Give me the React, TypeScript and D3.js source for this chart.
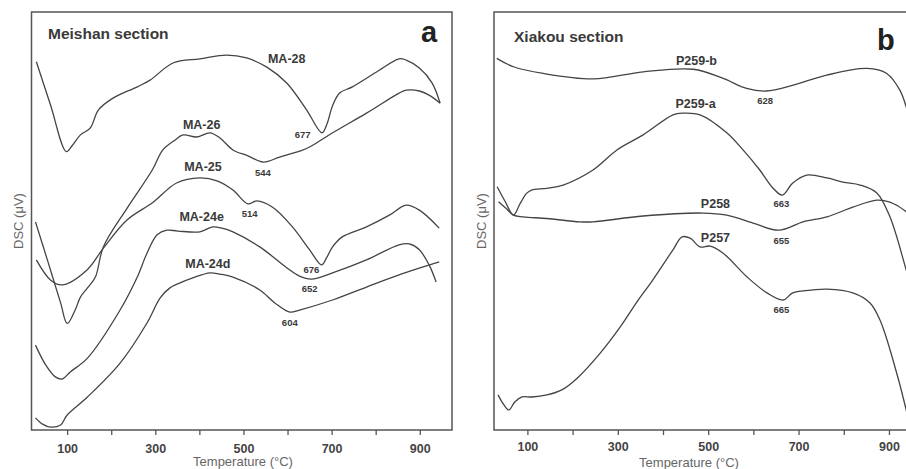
import React from 'react';
import * as d3 from 'd3';

type Pt = [number, number];

// x-axis ticks (°C)
const tickValues = [100, 200, 300, 400, 500, 600, 700, 800, 900];
const tickLabelValues = [100, 300, 500, 700, 900];

// ---- Panel a : Meishan section (temperature °C, DSC arbitrary units) ----
const ma28: Pt[] = [
  [29, 88.1], [61, 77.8], [97, 66.6], [110, 68.0], [129, 70.6], [151, 72.2], [170, 76.6], [203, 79.4],
  [258, 82.1], [287, 83.7], [339, 87.8], [400, 88.8], [461, 89.7], [506, 89.0], [552, 86.8],
  [597, 83.0], [642, 76.6], [677, 71.1], [689, 73.4], [700, 77.3], [717, 80.6], [746, 82.1],
  [800, 85.6], [852, 88.8], [868, 88.5], [898, 86.6], [927, 83.0], [945, 78.2],
];
const ma26: Pt[] = [
  [27, 49.8], [54, 40.7], [84, 30.4], [99, 25.5], [117, 28.7], [129, 31.8], [145, 34.0], [163, 36.6],
  [181, 43.8], [235, 53.1], [292, 62.2], [316, 67.0], [344, 69.4], [362, 70.6], [393, 70.1],
  [423, 71.1], [445, 69.9], [475, 67.0], [509, 65.6], [544, 64.1], [581, 65.3], [626, 66.7],
  [649, 67.7], [701, 71.1], [778, 75.8], [852, 80.6], [868, 81.3], [898, 81.1], [920, 80.1], [945, 78.2],
];
const ma25: Pt[] = [
  [29, 40.7], [61, 35.9], [87, 34.7], [144, 38.3], [181, 43.5], [234, 50.2], [294, 54.5], [347, 59.1],
  [400, 60.3], [439, 59.6], [475, 57.4], [509, 54.1], [529, 54.8], [565, 53.3], [610, 48.6],
  [649, 43.1], [676, 39.5], [687, 41.1], [701, 43.8], [723, 46.2], [778, 48.6], [830, 51.4],
  [868, 53.8], [898, 52.6], [943, 48.3],
];
const ma24e: Pt[] = [
  [27, 20.3], [50, 15.6], [72, 12.7], [88, 12.2], [106, 13.9], [145, 17.2], [219, 28.7], [258, 36.6],
  [280, 42.3], [303, 46.7], [325, 47.8], [350, 47.6], [400, 47.4], [429, 48.6], [450, 48.3],
  [475, 47.4], [536, 43.8], [597, 38.8], [626, 36.8], [653, 36.1], [701, 37.6], [778, 40.7],
  [852, 44.3], [875, 44.5], [898, 43.1], [920, 39.5], [936, 35.4],
];
const ma24d: Pt[] = [
  [27, 2.9], [43, 1.4], [61, 0.7], [84, 1.2], [99, 3.6], [145, 7.9], [219, 16.0], [280, 25.6],
  [310, 31.6], [332, 34.0], [355, 35.2], [384, 36.4], [423, 37.6], [445, 37.3], [475, 36.6],
  [536, 33.5], [570, 30.4], [604, 28.2], [626, 28.7], [701, 31.1], [778, 34.2], [852, 37.1], [943, 40.2],
];

// ---- Panel b : Xiakou section ----
const p259b: Pt[] = [
  [31, 88.9], [68, 86.9], [134, 85.3], [245, 84.0], [355, 85.7], [466, 86.3], [532, 84.1], [584, 81.7],
  [628, 81.1], [687, 82.5], [761, 84.9], [850, 86.5], [894, 85.3], [923, 81.3], [937, 77.3], [956, 69.4],
];
const p259a: Pt[] = [
  [32, 58.2], [50, 54.6], [68, 51.4], [83, 54.2], [97, 56.6], [108, 57.4], [142, 57.8], [178, 58.6],
  [244, 62.2], [297, 67.0], [355, 70.6], [421, 75.4], [443, 75.8], [481, 75.4], [540, 71.1],
  [576, 67.0], [613, 62.2], [642, 57.9], [663, 56.2], [686, 59.1], [717, 61.0], [762, 60.3],
  [797, 59.3], [835, 58.6], [872, 56.7], [901, 51.0], [937, 38.3], [956, 31.1],
];
const p258: Pt[] = [
  [35, 54.6], [52, 53.0], [68, 51.4], [90, 51.0], [142, 50.6], [215, 49.8], [244, 49.8], [355, 51.2],
  [487, 51.9], [540, 51.4], [598, 49.5], [655, 47.8], [709, 49.8], [762, 51.0], [819, 53.3],
  [872, 55.0], [901, 54.5], [937, 52.2], [956, 49.8],
];
const p257: Pt[] = [
  [34, 8.4], [47, 6.0], [58, 4.8], [71, 6.7], [87, 7.9], [109, 7.9], [142, 8.4], [175, 9.6], [209, 12.4],
  [260, 18.4], [304, 24.6], [341, 30.6], [377, 36.0], [421, 43.1], [441, 46.2], [459, 45.9],
  [481, 43.8], [503, 44.0], [532, 42.3], [585, 36.6], [629, 32.8], [665, 31.1], [686, 32.8],
  [731, 33.5], [762, 33.7], [819, 32.8], [857, 30.4], [879, 26.3], [908, 16.7], [937, 4.8], [950, -2],
];

// annotations: text, anchor temperature, anchor value, kind (name / peak)
type Ann = { text: string; t: number; v: number; kind: 'name' | 'peak' };
const annA: Ann[] = [
  { text: 'MA-28', t: 597, v: 87.9, kind: 'name' },
  { text: '677', t: 633, v: 69.8, kind: 'peak' },
  { text: 'MA-26', t: 404, v: 71.9, kind: 'name' },
  { text: '544', t: 543, v: 60.8, kind: 'peak' },
  { text: 'MA-25', t: 407, v: 62.0, kind: 'name' },
  { text: '514', t: 513, v: 50.9, kind: 'peak' },
  { text: 'MA-24e', t: 404, v: 50.0, kind: 'name' },
  { text: '676', t: 653, v: 37.6, kind: 'peak' },
  { text: '652', t: 649, v: 33.1, kind: 'peak' },
  { text: 'MA-24d', t: 418, v: 38.8, kind: 'name' },
  { text: '604', t: 604, v: 25.0, kind: 'peak' },
];
const annB: Ann[] = [
  { text: 'P259-b', t: 473, v: 87.3, kind: 'name' },
  { text: '628', t: 625, v: 77.9, kind: 'peak' },
  { text: 'P259-a', t: 471, v: 77.0, kind: 'name' },
  { text: '663', t: 661, v: 53.4, kind: 'peak' },
  { text: 'P258', t: 515, v: 53.0, kind: 'name' },
  { text: '655', t: 661, v: 44.4, kind: 'peak' },
  { text: 'P257', t: 515, v: 45.0, kind: 'name' },
  { text: '665', t: 661, v: 28.1, kind: 'peak' },
];

const W = 906;
const H = 469;
const TOP = 12;
const BOTTOM = 430;
const FONT = 'Liberation Sans, Arial, Helvetica, sans-serif';
const INK = '#3a3a3a';

const panels = [
  {
    id: 'a', title: 'Meishan section', letter: 'a', left: 31.5, right: 452, domain: [18, 972],
    series: [ma28, ma26, ma25, ma24e, ma24d], anns: annA,
    titleX: 48, titleY: 39, letterX: 421, letterY: 42, tickY: 452.5, yTitleX: 18, xTitleX: 243, xTitleY: 466,
  },
  {
    id: 'b', title: 'Xiakou section', letter: 'b', left: 494, right: 921.1, domain: [25, 970],
    series: [p259b, p259a, p258, p257], anns: annB,
    titleX: 514, titleY: 42, letterX: 877, letterY: 49.5, tickY: 450.5, yTitleX: 481.5, xTitleX: 689, xTitleY: 466.5,
  },
];

const y = d3.scaleLinear().domain([0, 100]).range([BOTTOM, TOP]);

function Panel({ p }: { p: typeof panels[number] }) {
  const x = d3.scaleLinear().domain(p.domain).range([p.left, p.right]);
  const line = d3
    .line<Pt>()
    .x((d) => x(d[0]))
    .y((d) => y(d[1]))
    .curve(d3.curveCatmullRom.alpha(0.5));
  const clipId = `clip-${p.id}`;
  return (
    <g>
      <defs>
        <clipPath id={clipId}>
          <rect x={p.left} y={TOP} width={p.right - p.left} height={BOTTOM - TOP} />
        </clipPath>
      </defs>
      <g clipPath={`url(#${clipId})`}>
        {p.series.map((s, i) => (
          <path key={i} d={line(s) || ''} fill="none" stroke="#444" strokeWidth={1.3} strokeLinejoin="round" />
        ))}
      </g>
      <rect x={p.left} y={TOP} width={p.right - p.left} height={BOTTOM - TOP} fill="none" stroke="#555" strokeWidth={1.5} />
      {tickValues.map((t) => (
        <line key={t} x1={x(t)} x2={x(t)} y1={BOTTOM} y2={BOTTOM + 5} stroke="#555" strokeWidth={1.3} />
      ))}
      {tickLabelValues.map((t) => (
        <text key={t} x={x(t)} y={p.tickY} textAnchor="middle" fontFamily={FONT} fontWeight="bold" fontSize={12.5} fill="#444">
          {t}
        </text>
      ))}
      <text x={p.xTitleX} y={p.xTitleY} textAnchor="middle" fontFamily={FONT} fontSize={13} fill="#666">
        Temperature (°C)
      </text>
      <text
        transform={`translate(${p.yTitleX},${(TOP + BOTTOM) / 2}) rotate(-90)`}
        dy="0.35em"
        textAnchor="middle"
        fontFamily={FONT}
        fontSize={13}
        fill="#666"
      >
        DSC (μV)
      </text>
      <text x={p.titleX} y={p.titleY} fontFamily={FONT} fontWeight="bold" fontSize={15.5} fill={INK}>
        {p.title}
      </text>
      <text x={p.letterX} y={p.letterY} fontFamily={FONT} fontWeight="bold" fontSize={29} fill="#222">
        {p.letter}
      </text>
      {p.anns.map((a, i) => (
        <text
          key={i}
          x={x(a.t)}
          y={y(a.v)}
          textAnchor="middle"
          fontFamily={FONT}
          fontWeight="bold"
          fontSize={a.kind === 'name' ? 12.5 : 9.5}
          fill={INK}
        >
          {a.text}
        </text>
      ))}
    </g>
  );
}

export default function App() {
  return (
    <svg
      width={W}
      height={H}
      viewBox={`0 0 ${W} ${H}`}
      style={{ position: 'absolute', left: 0, top: 0, background: '#fff', display: 'block' }}
    >
      <rect x={0} y={0} width={W} height={H} fill="#fff" />
      {panels.map((p) => (
        <Panel key={p.id} p={p} />
      ))}
    </svg>
  );
}
